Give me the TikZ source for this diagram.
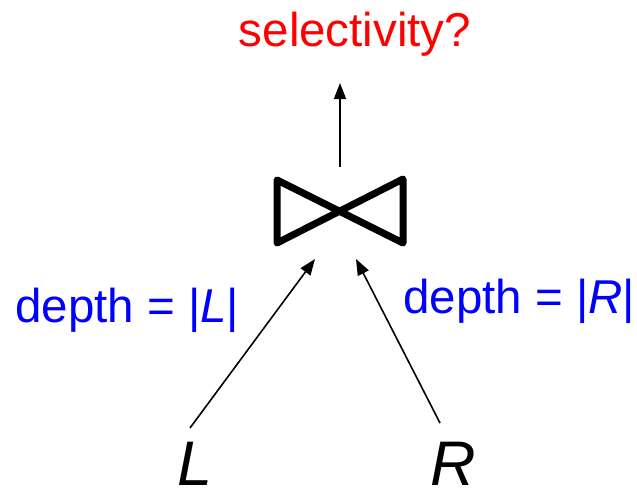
\documentclass[tikz,border=0pt]{standalone}
\usepackage{fontspec}
\setmainfont{Liberation Sans}
\usetikzlibrary{arrows.meta}
\begin{document}
\begin{tikzpicture}[x=1pt,y=-1pt,
  lbl/.style={inner sep=0pt,font=\fontsize{47.5}{52}\selectfont},
  rel/.style={inner sep=0pt,font=\fontsize{63}{70}\selectfont\itshape},
  arr/.style={line width=1.6pt,-{Triangle[length=16pt,width=12pt]}},
  bowtie/.style={line width=7pt,line join=round}]
\useasboundingbox (0,0) rectangle (637,490);
% title
\node[lbl,text=red,anchor=base] (sel) at (355,46) {selectivity?};
% join symbol
\coordinate (jc) at (340,211);
\draw[bowtie] (277,180) -- (403,243) -- (403,179) -- (277,243) -- cycle;
% leaves
\node[rel,anchor=base west] (L) at (177,485) {L};
\node[rel,anchor=base west] (R) at (430,485) {R};
% labels
\node[lbl,text=blue,anchor=base west] (dl) at (15,322) {depth = |\textit{L}|};
\node[lbl,text=blue,anchor=base west] (dr) at (403,313) {depth = |\textit{R}|};
% connectors
\coordinate (up0) at (340,167);
\coordinate (up1) at (340,83);
\coordinate (l0) at (190,428);
\coordinate (l1) at (315,259);
\coordinate (r0) at (440,423);
\coordinate (r1) at (356,259);
\draw[arr] (up0) -- (up1);
\draw[arr] (l0) -- (l1);
\draw[arr] (r0) -- (r1);
\end{tikzpicture}
\end{document}
